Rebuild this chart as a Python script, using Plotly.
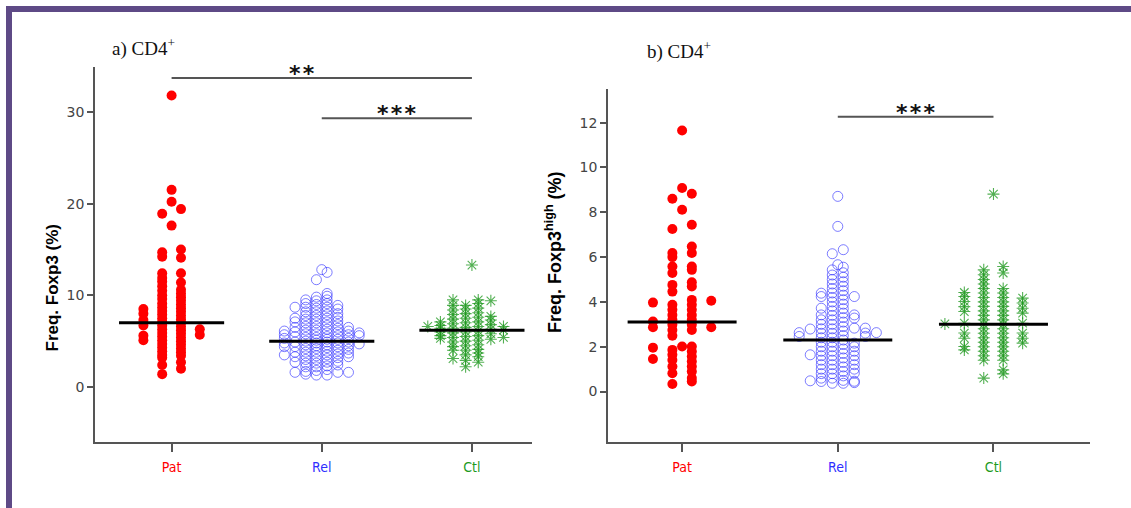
import plotly.graph_objects as go

# ---------------- data ----------------
categories = ["Pat", "Rel", "Ctl"]

# Panel a: Freq. Foxp3 (%) -- values grouped by dot-plot lane (lane index: left<0<right)
pat_a = {
    0: [31.8, 21.5, 20.2, 17.6],
    -1: [18.9, 14.7, 14.2, 12.4, 11.9, 11.5, 11.0, 10.5, 10.0, 9.6, 9.1, 8.7, 8.3, 7.9, 7.5,
         7.1, 6.7, 6.3, 5.9, 5.5, 5.1, 4.7, 4.3, 3.9, 3.5, 3.2, 2.4, 1.4],
    1: [19.4, 15.0, 14.1, 12.4, 11.4, 10.6, 10.2, 9.8, 9.4, 9.0, 8.6, 8.2, 7.8, 7.4, 7.0, 6.6,
        6.2, 5.8, 5.4, 5.0, 4.6, 4.2, 3.8, 3.4, 2.7, 2.0],
    -3: [8.5, 8.0, 7.3, 6.7, 5.6, 5.1],
    3: [6.3, 5.7],
}
rel_a = {
    0: [12.8],
    -7: [6.1, 5.7, 5.3, 4.8, 4.4, 3.5],
    -5: [8.7, 7.5, 7.1, 6.5, 6.0, 5.5, 4.9, 4.4, 3.8, 3.3, 2.7, 1.6],
    -3: [9.5, 9.1, 8.7, 8.2, 7.8, 7.4, 7.0, 6.6, 6.2, 5.8, 5.4, 5.0, 4.6, 4.2, 3.8, 3.4, 3.0,
         2.6, 2.2, 1.7, 1.4],
    -1: [11.7, 9.8, 9.4, 9.0, 8.6, 8.2, 7.8, 7.4, 7.0, 6.6, 6.2, 5.8, 5.4, 5.1, 4.8, 4.5, 4.2,
         3.8, 3.4, 3.0, 2.6, 2.2, 1.8, 1.3],
    1: [12.5, 10.2, 9.9, 9.5, 9.1, 8.7, 8.3, 7.9, 7.5, 7.1, 6.7, 6.3, 5.9, 5.5, 5.2, 4.9, 4.6,
        4.3, 3.9, 3.5, 3.1, 2.7, 2.3, 1.9, 1.3],
    3: [8.9, 8.5, 8.0, 7.6, 7.2, 6.8, 6.4, 6.0, 5.6, 5.2, 4.8, 4.4, 4.0, 3.6, 3.2, 2.8, 2.4, 1.6],
    5: [6.5, 6.1, 5.7, 5.3, 4.9, 4.5, 4.1, 3.7, 3.3, 1.6],
    7: [5.9, 5.6, 4.7],
}
ctl_a = {
    0: [13.3],
    -7: [6.6],
    -5: [7.1, 6.7, 6.4, 6.0, 5.6, 5.3],
    -3: [9.5, 8.9, 8.4, 7.9, 7.4, 6.9, 6.4, 5.9, 5.4, 4.9, 4.4, 4.0, 3.1],
    -1: [8.9, 8.5, 8.0, 7.5, 7.0, 6.5, 6.0, 5.5, 5.0, 4.5, 4.0, 3.5, 2.9, 2.2],
    1: [9.5, 9.1, 8.6, 8.1, 7.6, 7.1, 6.6, 6.1, 5.6, 5.1, 4.6, 4.1, 3.7, 3.3, 2.7],
    3: [9.4, 7.7, 7.3, 6.8, 6.3, 5.8, 5.2],
    5: [6.6, 6.2, 5.4],
}
median_a = [7.0, 5.0, 6.2]

# Panel b: Freq. Foxp3high (%)
pat_b = {
    0: [11.65, 9.08, 8.11, 2.01],
    -1: [8.6, 7.25, 6.18, 6.0, 5.58, 5.29, 4.76, 4.46, 3.87, 3.65, 3.42, 3.2, 2.98, 2.75, 2.49,
         1.86, 1.64, 1.41, 1.12, 0.82, 0.34],
    1: [8.83, 7.44, 6.47, 6.18, 5.58, 5.43, 4.88, 4.69, 4.09, 3.87, 3.65, 3.42, 3.2, 2.98, 2.75,
        2.01, 1.79, 1.56, 1.34, 1.12, 0.89, 0.6, 0.45],
    -3: [3.97, 3.13, 2.87, 1.96, 1.45],
    3: [4.05, 2.87],
}
rel_b = {
    0: [8.71, 7.37, 5.66],
    -7: [2.63, 2.46],
    -5: [2.79, 1.64, 0.48],
    -3: [4.39, 4.24, 3.72, 3.42, 3.2, 3.0, 2.8, 2.6, 2.4, 2.2, 2.0, 1.8, 1.6, 1.4, 1.2, 1.0, 0.8,
         0.6, 0.45],
    -1: [6.15, 5.43, 5.2, 5.0, 4.8, 4.6, 4.4, 4.2, 4.0, 3.8, 3.6, 3.4, 3.2, 3.0, 2.8, 2.6, 2.4,
         2.2, 2.0, 1.8, 1.6, 1.4, 1.2, 1.0, 0.8, 0.6, 0.37],
    1: [6.33, 5.55, 5.3, 5.1, 4.9, 4.7, 4.5, 4.3, 4.1, 3.9, 3.7, 3.5, 3.3, 3.1, 2.9, 2.7, 2.5,
        2.3, 2.1, 1.9, 1.7, 1.5, 1.3, 1.1, 0.9, 0.7, 0.5, 0.37],
    3: [4.24, 3.42, 3.28, 2.83, 2.16, 2.0, 1.8, 1.6, 1.4, 1.2, 1.0, 0.82, 0.46, 0.4],
    5: [2.83, 2.61, 2.46],
    7: [2.63],
}
ctl_b = {
    0: [8.81],
    -5: [3.02],
    -3: [4.42, 4.24, 4.02, 3.79, 3.57, 3.05, 2.61, 2.38, 2.01, 1.86],
    -1: [5.43, 5.21, 5.0, 4.8, 4.6, 4.4, 4.2, 4.0, 3.8, 3.6, 3.4, 3.2, 3.0, 2.8, 2.6, 2.4, 2.2,
         2.0, 1.8, 1.6, 1.4, 0.6],
    1: [5.58, 5.29, 4.6, 4.4, 4.2, 4.0, 3.8, 3.6, 3.4, 3.2, 3.0, 2.8, 2.6, 2.4, 2.2, 2.0, 1.8,
        1.6, 1.4, 0.97, 0.79],
    3: [4.17, 3.95, 3.72, 3.5, 3.05, 2.61, 2.38, 2.16],
}
median_b = [3.1, 2.3, 3.0]

# significance comparisons: (from category, to category, bar level, label)
sig_a = [(0, 2, 33.7, "**"), (1, 2, 29.3, "***")]
sig_b = [(1, 2, 12.26, "***")]

yticks_a = [0, 10, 20, 30]
yticks_b = [0, 2, 4, 6, 8, 10, 12]

# ---------------- styling ----------------
W, H = 1131, 508
RED, BLUE, GREEN = "#ff0000", "#2f2fff", "#1e9a1e"
cat_colors = [RED, BLUE, GREEN]
lane_unit_a = [0.0626, 0.0356, 0.042]
lane_unit_b = [0.0624, 0.0354, 0.0624]

marker_styles = [
    dict(symbol="circle", size=10, color=RED),
    dict(symbol="circle-open", size=10, color="rgba(45,45,255,0.62)", line=dict(width=1)),
    dict(symbol="asterisk-open", size=10, color="rgba(25,150,25,0.75)",
         line=dict(width=1.1, color="rgba(25,150,25,0.75)")),
]

fig = go.Figure()


def add_group(lanes, ci, unit, xa, ya):
    xs, ys = [], []
    for lane, vals in lanes.items():
        for v in vals:
            xs.append(ci + lane * unit)
            ys.append(v)
    fig.add_trace(go.Scatter(x=xs, y=ys, mode="markers", marker=marker_styles[ci],
                             xaxis=xa, yaxis=ya, showlegend=False, hoverinfo="y"))


for ci, g in enumerate([pat_a, rel_a, ctl_a]):
    add_group(g, ci, lane_unit_a[ci], "x", "y")
for ci, g in enumerate([pat_b, rel_b, ctl_b]):
    add_group(g, ci, lane_unit_b[ci], "x2", "y2")

HALF = 0.35
for meds, xa, ya in [(median_a, "x", "y"), (median_b, "x2", "y2")]:
    for ci, m in enumerate(meds):
        fig.add_trace(go.Scatter(x=[ci - HALF, ci + HALF], y=[m, m], mode="lines",
                                 line=dict(color="black", width=3), xaxis=xa, yaxis=ya,
                                 showlegend=False, hoverinfo="skip"))

shapes = []
annotations = []
HS = "\u200a"
for sigs, xr, yr in [(sig_a, "x", "y"), (sig_b, "x2", "y2")]:
    for k, (c0, c1, lvl, lab) in enumerate(sigs):
        shapes.append(dict(type="line", xref=xr, yref=yr, x0=c0, x1=c1, y0=lvl, y1=lvl,
                           line=dict(color="#555555", width=2)))
        xshift = -20 if (c1 - c0) == 2 else 0
        annotations.append(dict(xref=xr, yref=yr, x=(c0 + c1) / 2, y=lvl,
                                text="<b>" + HS.join(lab) + "</b>",
                                showarrow=False, yanchor="bottom", xshift=xshift, yshift=-10,
                                font=dict(family="DejaVu Sans", size=22, color="#111111")))

# purple frame (top & left)
FR = "#5e4a86"
shapes.append(dict(type="line", xref="paper", yref="paper", x0=6 / W, x1=1.0,
                   y0=1 - 9 / H, y1=1 - 9 / H, line=dict(color=FR, width=6)))
shapes.append(dict(type="line", xref="paper", yref="paper", x0=9 / W, x1=9 / W,
                   y0=0, y1=1 - 6 / H, line=dict(color=FR, width=6)))

# panel titles
annotations.append(dict(xref="paper", yref="paper", x=110 / W, y=1 - 47 / H, xanchor="left",
                        yanchor="middle", text="a) CD4<sup>+</sup>", showarrow=False,
                        font=dict(family="Liberation Serif, Times New Roman", size=19,
                                  color="#111111")))
annotations.append(dict(xref="paper", yref="paper", x=645 / W, y=1 - 50 / H, xanchor="left",
                        yanchor="middle", text="b) CD4<sup>+</sup>", showarrow=False,
                        font=dict(family="Liberation Serif, Times New Roman", size=19,
                                  color="#111111")))
# y-axis titles
annotations.append(dict(xref="paper", yref="paper", x=40 / W, y=1 - 288 / H, textangle=-90,
                        text="<b>Freq. Foxp3 (%)</b>", showarrow=False,
                        font=dict(family="Liberation Sans, Arial", size=17, color="black")))
annotations.append(dict(xref="paper", yref="paper", x=553 / W, y=1 - 252 / H, textangle=-90,
                        text="<b>Freq. Foxp3<sup>high</sup> (%)</b>", showarrow=False,
                        font=dict(family="Liberation Sans, Arial", size=18, color="black")))

ticktext = [f"<span style='color:{c}'>{t}</span>" for t, c in zip(categories, cat_colors)]
AX = "#555555"
common_x = dict(showline=True, linecolor=AX, linewidth=1.5, ticks="outside", ticklen=8,
                tickcolor=AX, tickwidth=1.5, showgrid=False, zeroline=False,
                tickvals=[0, 1, 2], ticktext=ticktext, ticklabelstandoff=3,
                tickfont=dict(family="DejaVu Sans Condensed, Liberation Sans Narrow, DejaVu Sans",
                              size=14))
common_y = dict(showline=True, linecolor=AX, linewidth=1.5, ticks="outside", ticklen=6,
                tickcolor=AX, tickwidth=1.5, showgrid=False, zeroline=False,
                tickfont=dict(family="DejaVu Sans", size=14, color="#444444"))

fig.update_layout(
    width=W, height=H, margin=dict(l=0, r=0, t=0, b=0),
    paper_bgcolor="white", plot_bgcolor="white", showlegend=False,
    xaxis=dict(domain=[95 / W, 532 / W], range=[-0.51, 2.40], anchor="y", **common_x),
    yaxis=dict(domain=[1 - 442 / H, 1 - 67 / H], range=[-6.0, 34.9], anchor="x",
               tickvals=yticks_a, **common_y),
    xaxis2=dict(domain=[608 / W, 1090 / W], range=[-0.476, 2.62], anchor="y2", **common_x),
    yaxis2=dict(domain=[1 - 442 / H, 1 - 89 / H], range=[-2.25, 13.5], anchor="x2",
                tickvals=yticks_b, **common_y),
    shapes=shapes, annotations=annotations,
)

fig.write_html("out.html")
